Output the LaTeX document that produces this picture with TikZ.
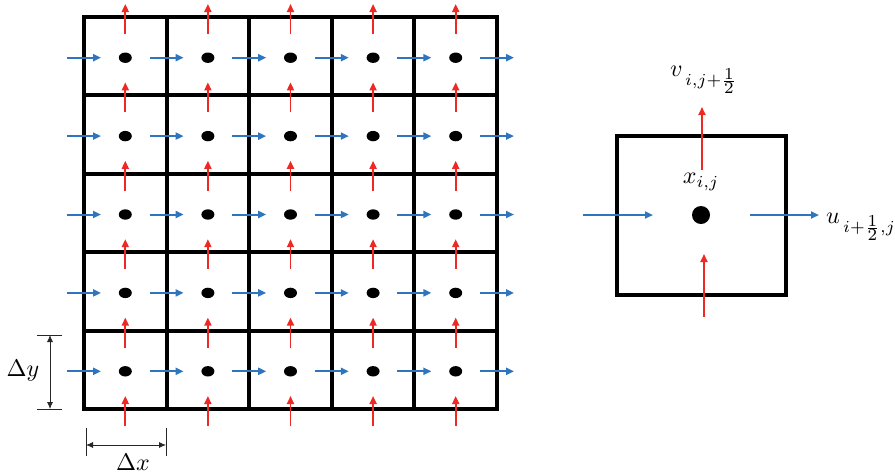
\documentclass[tikz,border=0pt]{standalone}
\usepackage{graphicx}
\usetikzlibrary{arrows.meta}
\definecolor{ablue}{RGB}{46,117,190}
\definecolor{ared}{RGB}{238,40,35}
\newcommand{\lblmath}[1]{\scalebox{2.4}{$#1$}}
\begin{document}
\begin{tikzpicture}[x=1pt,y=-1pt,
  gridline/.style={line width=4pt, line cap=rect},
  uarrow/.style={ablue, line width=2pt, -{Triangle[length=8pt,width=7pt]}},
  varrow/.style={ared, line width=1.8pt, -{Triangle[length=8pt,width=7pt]}},
  dimline/.style={black!85, line width=0.8pt},
  dimarrow/.style={dimline, {Latex[length=7pt,width=6pt]}-{Latex[length=7pt,width=6pt]}},
  lbl/.style={inner sep=0pt}]
\useasboundingbox (0,0) rectangle (895,475);
% grid lines
\foreach \k in {0,...,5}{
  \draw[gridline] ({84+82.6*\k},17) -- ({84+82.6*\k},409);
  \draw[gridline] (84,{17+78.4*\k}) -- (497,{17+78.4*\k});
}
% dots
\foreach \i in {0,...,4}{
  \foreach \j in {0,...,4}{
    \fill ({125.3+82.6*\i},{57.7+78.4*\j}) ellipse (6.5pt and 5.2pt);
  }
}
% arrows
\foreach \k in {0,...,5}{
  \foreach \j in {0,...,4}{
    \draw[uarrow] ({84+82.6*\k-17},{57.7+78.4*\j}) -- ({84+82.6*\k+17},{57.7+78.4*\j});
    \draw[varrow] ({125.3+82.6*\j},{17+78.4*\k+17}) -- ({125.3+82.6*\j},{17+78.4*\k-13});
  }
}
% dimension Delta y
\coordinate (dy1) at (50,335);
\coordinate (dy2) at (50,409);
\draw[dimline] (37,335) -- (62,335);
\draw[dimline] (37,409) -- (62,409);
\draw[dimarrow] (dy1) -- (dy2);
\node[lbl] (dylabel) at (23,371) {\lblmath{\Delta y}};
% dimension Delta x
\coordinate (dx1) at (86,445);
\coordinate (dx2) at (166,445);
\draw[dimline] (86,428) -- (86,456);
\draw[dimline] (166,428) -- (166,456);
\draw[dimarrow] (dx1) -- (dx2);
\node[lbl] (dxlabel) at (133,462) {\lblmath{\Delta x}};
% single cell
\draw[gridline] (617,136) rectangle (786,295);
\node[circle, fill=black, minimum size=18pt, inner sep=0pt] (c) at (701,215) {};
\coordinate (ul1) at (583,215); \coordinate (ul2) at (653,215);
\coordinate (ur1) at (750,215); \coordinate (ur2) at (819,215);
\coordinate (vt1) at (702,170); \coordinate (vt2) at (702,107);
\coordinate (vb1) at (704,317); \coordinate (vb2) at (704,254);
\draw[uarrow] (ul1) -- (ul2);
\draw[uarrow] (ur1) -- (ur2);
\draw[varrow] (vt1) -- (vt2);
\draw[varrow] (vb1) -- (vb2);
\node[lbl] (vlabel) at (704,80) {\lblmath{v_{\,i,j+\frac{\scriptstyle 1}{\scriptstyle 2}}}};
\node[lbl] (xlabel) at (701,182) {\lblmath{x_{i,j}}};
\node[lbl, anchor=west] (ulabel) at (826,227) {\lblmath{u_{\,i+\frac{\scriptstyle 1}{\scriptstyle 2},j}}};
\end{tikzpicture}
\end{document}
